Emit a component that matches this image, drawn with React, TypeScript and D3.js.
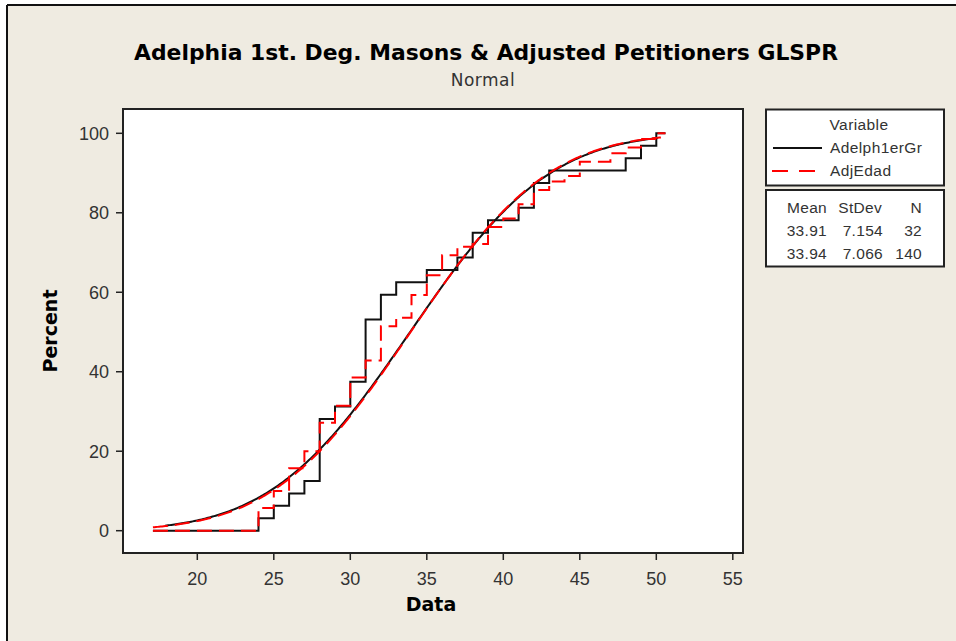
import React from "react";
import * as d3 from "d3";

// empirical CDF data (ages and counts read from the steps)
const adelphAges = [24, 25, 26, 27, 28, 29, 30, 31, 32, 33, 35, 37, 38, 39, 41, 42, 43, 48, 49, 50];
const adelphCounts = [1, 1, 1, 1, 5, 1, 2, 5, 2, 1, 1, 1, 2, 1, 1, 2, 1, 1, 1, 1];

const adjAges = [24, 25, 26, 27, 28, 29, 30, 31, 32, 33, 34, 35, 36, 37, 38, 39, 40, 41, 42, 43, 44, 45, 46, 47, 48, 49, 50];
const adjCounts = [8, 6, 8, 6, 10, 6, 10, 6, 12, 3, 8, 7, 7, 3, 1, 6, 3, 5, 5, 3, 2, 5, 0, 3, 2, 3, 2];

// fitted normal parameters (from the table)
const seriesNames = ["Adelph1erGr", "AdjEdad"];
const means = [33.91, 33.94];
const stdevs = [7.154, 7.066];
const ns = [32, 140];

const xTicks = [20, 25, 30, 35, 40, 45, 50, 55];
const yTicks = [0, 20, 40, 60, 80, 100];

const W = 956;
const H = 641;
const plot = { left: 123, right: 743, top: 109, bottom: 553 };

const x = d3.scaleLinear().domain([20, 55]).range([197.3, 732.8]);
const y = d3.scaleLinear().domain([0, 100]).range([530.7, 133.3]);

const stepStart = 17.1;
const stepEnd = 50.6;

function erf(v: number) {
  const s = v < 0 ? -1 : 1;
  const a = Math.abs(v);
  const t = 1 / (1 + 0.3275911 * a);
  const p =
    t * (0.254829592 + t * (-0.284496736 + t * (1.421413741 + t * (-1.453152027 + t * 1.061405429))));
  return s * (1 - p * Math.exp(-a * a));
}
const normCdf = (v: number, m: number, sd: number) => 0.5 * (1 + erf((v - m) / (sd * Math.SQRT2)));

function stepPoints(ages: number[], counts: number[]) {
  const n = d3.sum(counts);
  let cum = 0;
  const pts: [number, number][] = [[stepStart, 0]];
  ages.forEach((a, i) => {
    cum += counts[i];
    pts.push([a, (cum / n) * 100]);
  });
  pts.push([stepEnd, 100]);
  return pts;
}

const stepLine = d3
  .line<[number, number]>()
  .x((d) => x(d[0]))
  .y((d) => y(d[1]))
  .curve(d3.curveStepAfter);

const smoothLine = d3
  .line<[number, number]>()
  .x((d) => x(d[0]))
  .y((d) => y(d[1]));

function cdfPath(i: number, from: number, to: number) {
  const xs = d3.range(from, to, 0.1).concat([to]);
  return smoothLine(xs.map((v) => [v, normCdf(v, means[i], stdevs[i]) * 100]));
}

const tickFont = "'Liberation Sans', Arial, sans-serif";
const boldFont = "'DejaVu Sans', Verdana, sans-serif";

export default function App() {
  const blackStep = stepLine(stepPoints(adelphAges, adelphCounts));
  const redStep = stepLine(stepPoints(adjAges, adjCounts));
  const blackCurve = cdfPath(0, 17.9, 50.1);
  const redCurve = cdfPath(1, 17.1, 50.3);

  return (
    <div style={{ position: "fixed", left: 0, top: 0 }}>
      <svg width={W} height={H} style={{ display: "block", background: "#fff" }}>
        <rect x={7} y={5} width={W} height={H} fill="#efebe1" />
        <line x1={7} y1={5} x2={W} y2={5} stroke="#111" strokeWidth={2} />
        <line x1={7} y1={5} x2={7} y2={H} stroke="#111" strokeWidth={2} />

        <text
          x={486}
          y={60}
          textAnchor="middle"
          fontFamily={boldFont}
          fontWeight="bold"
          fontSize={21}
          textLength={704}
          lengthAdjust="spacingAndGlyphs"
          fill="#000"
        >
          Adelphia 1st. Deg. Masons &amp; Adjusted Petitioners GLSPR
        </text>
        <text x={483} y={86} textAnchor="middle" fontFamily={boldFont} fontSize={17} fill="#333" letterSpacing={0.5}>
          Normal
        </text>

        <rect
          x={plot.left}
          y={plot.top}
          width={plot.right - plot.left}
          height={plot.bottom - plot.top}
          fill="#fff"
          stroke="#222"
          strokeWidth={2}
        />

        {xTicks.map((t) => (
          <g key={"x" + t}>
            <line x1={x(t)} x2={x(t)} y1={plot.bottom} y2={plot.bottom + 7} stroke="#222" strokeWidth={1.5} />
            <text x={x(t)} y={plot.bottom + 32} textAnchor="middle" fontFamily={tickFont} fontSize={18} fill="#333">
              {t}
            </text>
          </g>
        ))}
        {yTicks.map((t) => (
          <g key={"y" + t}>
            <line x1={plot.left - 7} x2={plot.left} y1={y(t)} y2={y(t)} stroke="#222" strokeWidth={1.5} />
            <text x={109} y={y(t) + 6.5} textAnchor="end" fontFamily={tickFont} fontSize={18} fill="#333">
              {t}
            </text>
          </g>
        ))}

        <text x={431} y={611} textAnchor="middle" fontFamily={boldFont} fontWeight="bold" fontSize={19} fill="#000">
          Data
        </text>
        <text
          transform="translate(57,331) rotate(-90)"
          textAnchor="middle"
          fontFamily={boldFont}
          fontWeight="bold"
          fontSize={19}
          fill="#000"
        >
          Percent
        </text>

        <g fill="none">
          <path d={blackStep || ""} stroke="#111" strokeWidth={2} />
          <path d={blackCurve || ""} stroke="#111" strokeWidth={2} />
          <path d={redStep || ""} stroke="#f00" strokeWidth={2} strokeDasharray="15,7" />
          <path d={redCurve || ""} stroke="#f00" strokeWidth={2} strokeDasharray="15,7" />
        </g>

        {/* legend */}
        <rect x={766} y={109.5} width={178} height={76} fill="#fff" stroke="#222" strokeWidth={2} />
        <text x={859} y={130} textAnchor="middle" fontFamily={tickFont} fontSize={15.5} fill="#333" letterSpacing={0.4}>
          Variable
        </text>
        <line x1={773} x2={822} y1={148} y2={148} stroke="#111" strokeWidth={2} />
        <line x1={772} x2={815} y1={171} y2={171} stroke="#f00" strokeWidth={2} strokeDasharray="16,11" />
        {seriesNames.map((s, i) => (
          <text key={s} x={830} y={153 + i * 23} fontFamily={tickFont} fontSize={15.5} fill="#333" letterSpacing={0.4}>
            {s}
          </text>
        ))}

        <rect x={766} y={190} width={178} height={76.5} fill="#fff" stroke="#222" strokeWidth={2} />
        <g fontFamily={tickFont} fontSize={15.5} fill="#333" textAnchor="end" letterSpacing={0.3}>
          <text x={827} y={213}>Mean</text>
          <text x={882} y={213}>StDev</text>
          <text x={922} y={213}>N</text>
          {means.map((m, i) => (
            <g key={"row" + i}>
              <text x={827} y={236 + i * 23}>{m.toFixed(2)}</text>
              <text x={883} y={236 + i * 23}>{stdevs[i].toFixed(3)}</text>
              <text x={922} y={236 + i * 23}>{ns[i]}</text>
            </g>
          ))}
        </g>
      </svg>
    </div>
  );
}
